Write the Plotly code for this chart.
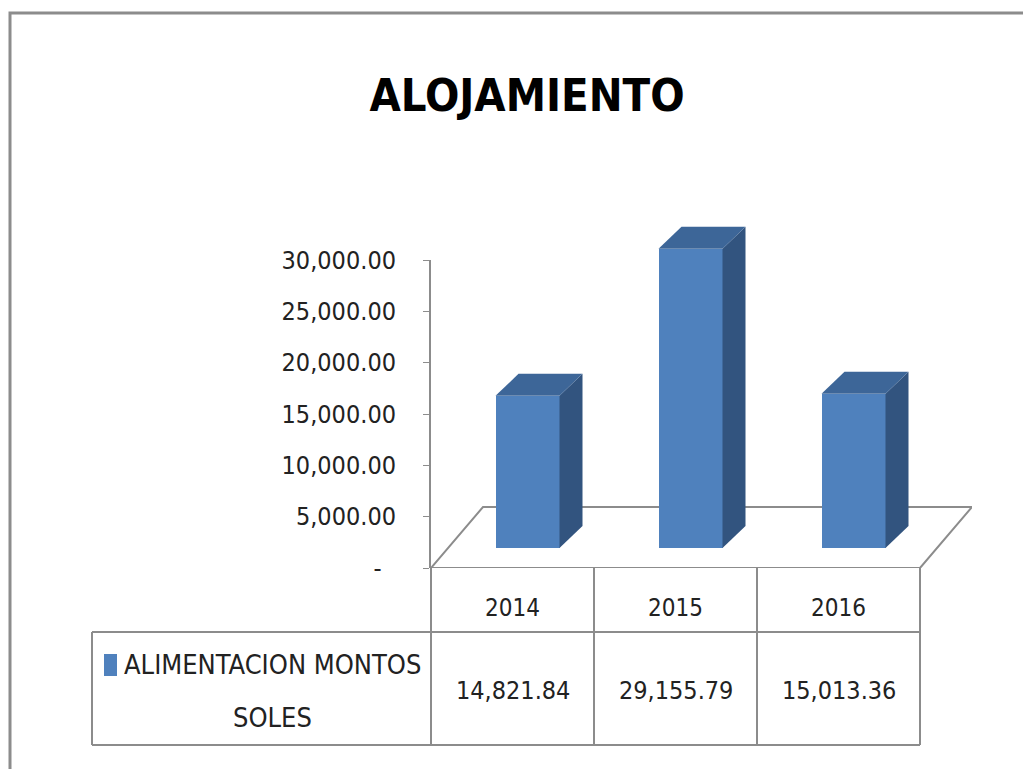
import plotly.graph_objects as go

# data
years = ["2014", "2015", "2016"]
montos = [14821.84, 29155.79, 15013.36]
value_labels = ["14,821.84", "29,155.79", "15,013.36"]
tick_vals = [0, 5000, 10000, 15000, 20000, 25000, 30000]
tick_text = ["-\u00a0\u00a0", "5,000.00", "10,000.00", "15,000.00", "20,000.00", "25,000.00", "30,000.00"]
series_name = ["ALIMENTACION MONTOS", "SOLES"]
title = "ALOJAMIENTO"

W, H = 1031, 769
PAGE_OFF = 8   # page body margin around the plot div
FONT = "DejaVu Sans Condensed, Liberation Sans Narrow, sans-serif"
FRONT = "#4F81BD"
TOP = "#3D6698"
SIDE = "#32547F"
GRID = "#8c8c8c"


def px(x):
    return (x - PAGE_OFF) / W


def py(y):
    return 1 - (y - PAGE_OFF) / H


# pixel layout of the plot area (screen pixels)
X_LEFT, COL_W = 431, 163
Y_ZERO, Y_TOP = 568, 260
PX_PER_UNIT = (Y_ZERO - Y_TOP) / 30000
FLOOR_DX, FLOOR_DY = 52, 61          # depth of floor in px
BAR_DX, BAR_DY = 15, 20              # where bars stand inside the floor
SIDE_DX, SIDE_DY = 23, 22            # bar depth in px
bar_w = 64 / COL_W

x_right = X_LEFT + 3 * COL_W
x_range = [-0.5, -0.5 + (x_right + FLOOR_DX - X_LEFT) / COL_W]
x_span = (x_range[1] - x_range[0]) * COL_W / W
y2_max = 34000

fig = go.Figure()

# front faces of the bars
fig.add_trace(go.Bar(x=list(range(len(years))), y=montos, width=bar_w,
                     marker=dict(color=FRONT, line=dict(width=0)),
                     xaxis="x2", yaxis="y2", hoverinfo="skip", showlegend=False))

ddx = SIDE_DX / COL_W
ddy = SIDE_DY / PX_PER_UNIT
for i, v in enumerate(montos):
    l, r = i - bar_w / 2, i + bar_w / 2
    # side
    fig.add_trace(go.Scatter(x=[r, r + ddx, r + ddx, r, r], y=[0, ddy, v + ddy, v, 0],
                             fill="toself", fillcolor=SIDE, mode="lines", line=dict(width=0),
                             xaxis="x2", yaxis="y2", hoverinfo="skip", showlegend=False))
    # top
    fig.add_trace(go.Scatter(x=[l, l + ddx, r + ddx, r, l], y=[v, v + ddy, v + ddy, v, v],
                             fill="toself", fillcolor=TOP, mode="lines", line=dict(width=0),
                             xaxis="x2", yaxis="y2", hoverinfo="skip", showlegend=False))

shapes = []
# floor parallelogram
fdx = FLOOR_DX / COL_W
fdy = FLOOR_DY / PX_PER_UNIT
shapes.append(dict(type="path", xref="x", yref="y", layer="below",
                   path=f"M -0.5 0 L {-0.5 + fdx} {fdy} L {2.5 + fdx} {fdy} L 2.5 0 Z",
                   line=dict(color=GRID, width=2)))

# data table
T_TOP, T_MID, T_BOT, T_LEFT = 568, 632, 745, 92
for k in range(4):
    xx = X_LEFT + k * COL_W
    shapes.append(dict(type="line", xref="paper", yref="paper",
                       x0=px(xx), x1=px(xx), y0=py(T_TOP), y1=py(T_BOT),
                       line=dict(color=GRID, width=2)))
for yy in (T_MID, T_BOT):
    shapes.append(dict(type="line", xref="paper", yref="paper",
                       x0=px(T_LEFT), x1=px(x_right), y0=py(yy), y1=py(yy),
                       line=dict(color=GRID, width=2)))
shapes.append(dict(type="line", xref="paper", yref="paper",
                   x0=px(T_LEFT), x1=px(T_LEFT), y0=py(T_MID), y1=py(T_BOT),
                   line=dict(color=GRID, width=2)))
# legend key
shapes.append(dict(type="rect", xref="paper", yref="paper",
                   x0=px(104), x1=px(117), y0=py(676), y1=py(654),
                   fillcolor=FRONT, line=dict(width=0)))
# chart frame
shapes.append(dict(type="rect", xref="paper", yref="paper",
                   x0=px(10), x1=1.05, y0=-0.05, y1=py(13),
                   line=dict(color=GRID, width=3)))

annotations = []
for i, (yr, lab) in enumerate(zip(years, value_labels)):
    annotations.append(dict(x=i, xref="x", y=py(608), yref="paper", yanchor="middle", text=yr,
                            showarrow=False, font=dict(size=24, color="#222")))
    annotations.append(dict(x=i, xref="x", y=py(690), yref="paper", yanchor="middle", text=lab,
                            showarrow=False, font=dict(size=25, color="#222")))
annotations.append(dict(x=px(272), xref="paper", xanchor="center", y=py(664), yref="paper",
                        yanchor="middle", text=series_name[0], showarrow=False,
                        font=dict(size=27, color="#222")))
annotations.append(dict(x=px(272), xref="paper", xanchor="center", y=py(717), yref="paper",
                        yanchor="middle", text=series_name[1], showarrow=False,
                        font=dict(size=27, color="#222")))

fig.update_layout(
    width=W, height=H, autosize=False,
    margin=dict(l=0, r=0, t=0, b=0, pad=0),
    paper_bgcolor="white", plot_bgcolor="rgba(0,0,0,0)",
    font=dict(family=FONT, color="#222"),
    title=dict(text=f"<b>{title}</b>", x=px(527), xanchor="center", y=py(95), yanchor="middle",
               font=dict(size=45, color="black", family=FONT)),
    xaxis=dict(domain=[px(X_LEFT), px(X_LEFT) + x_span],
               range=x_range, visible=False, anchor="y", automargin=False),
    yaxis=dict(domain=[py(Y_ZERO), py(Y_TOP)], range=[0, 30000], anchor="x",
               tickvals=tick_vals, ticktext=tick_text, ticks="outside", ticklen=6,
               tickcolor=GRID, showline=True, linecolor=GRID, linewidth=2,
               showgrid=False, zeroline=False, ticklabelstandoff=22, automargin=False,
               tickfont=dict(size=25, color="#222")),
    xaxis2=dict(domain=[px(X_LEFT + BAR_DX), px(X_LEFT + BAR_DX) + x_span],
                range=x_range, visible=False, anchor="y2", automargin=False),
    yaxis2=dict(domain=[py(Y_ZERO - BAR_DY), py(Y_ZERO - BAR_DY - y2_max * PX_PER_UNIT)],
                range=[0, y2_max], visible=False, anchor="x2", automargin=False),
    shapes=shapes, annotations=annotations,
    bargap=0,
)

fig.write_html("out.html")
